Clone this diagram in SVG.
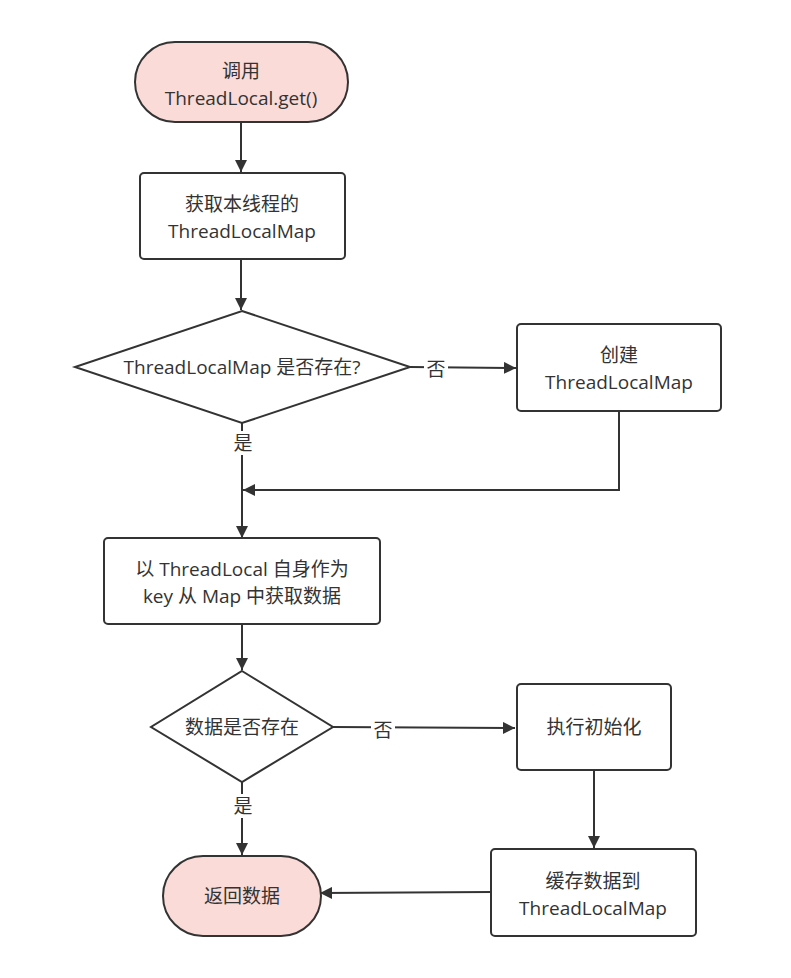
<svg xmlns="http://www.w3.org/2000/svg" width="791" height="978" viewBox="0 0 791 978">
<style>
.n{fill:#fff;stroke:#333;stroke-width:2}
.p{fill:#fadbd8;stroke:#333;stroke-width:2}
text{font-family:"Open Sans","Noto Sans CJK SC",sans-serif;font-size:19px;fill:#333;text-anchor:middle}
.c{fill:none;stroke:#333;stroke-width:2;marker-end:url(#a)}
.l{fill:none;stroke:#333;stroke-width:2}
</style>
<defs><marker id="a" viewBox="0 0 10 10" refX="9" refY="5" markerWidth="6" markerHeight="6" orient="auto" markerUnits="userSpaceOnUse" ><path d="M0,0L10,5L0,10z" fill="#333"/></marker>
<marker id="b" viewBox="0 0 10 10" refX="10" refY="5" markerWidth="12" markerHeight="12" orient="auto" markerUnits="userSpaceOnUse"><path d="M0,0L10,5L0,10z" fill="#333"/></marker></defs>
<rect width="791" height="978" fill="#fff"/>
<g id="connectors" style="marker-end:url(#b)">
<path class="l" marker-end="url(#b)" d="M241,122V172"/>
<path class="l" marker-end="url(#b)" d="M241,259V310"/>
<path class="l" marker-end="url(#b)" d="M410,367L516,368"/>
<path class="l" marker-end="url(#b)" d="M619,411V490H243"/>
<path class="l" marker-end="url(#b)" d="M242,423V538"/>
<path class="l" marker-end="url(#b)" d="M242,624V670"/>
<path class="l" marker-end="url(#b)" d="M333,727L515,728"/>
<path class="l" marker-end="url(#b)" d="M594,770V848"/>
<path class="l" marker-end="url(#b)" d="M491,892L320,893"/>
<path class="l" marker-end="url(#b)" d="M242,782V855"/>
<rect x="424" y="357" width="24" height="24" fill="#fff"/><text x="436" y="376" style="marker-end:none">否</text>
<rect x="371" y="718" width="24" height="24" fill="#fff"/><text x="383" y="737">否</text>
<rect x="231" y="431" width="24" height="24" fill="#fff"/><text x="243" y="450">是</text>
<rect x="231" y="794" width="24" height="24" fill="#fff"/><text x="243" y="813">是</text>
</g>
<g id="start"><rect class="p" x="135" y="42" width="213" height="80" rx="40"/><text x="241" y="78">调用</text><text x="241" y="105">ThreadLocal.get()</text></g>
<g id="getmap"><rect class="n" x="140" y="173" width="205" height="86" rx="4"/><text x="242" y="211">获取本线程的</text><text x="242" y="238">ThreadLocalMap</text></g>
<g id="d1"><path class="n" d="M242,311L410,367L242,423L75,367Z"/><text x="242" y="374">ThreadLocalMap 是否存在?</text></g>
<g id="create"><rect class="n" x="517" y="324" width="204" height="87" rx="4"/><text x="619" y="362">创建</text><text x="619" y="389">ThreadLocalMap</text></g>
<g id="lookup"><rect class="n" x="104" y="538" width="276" height="86" rx="4"/><text x="242" y="576">以 ThreadLocal 自身作为</text><text x="242" y="603">key 从 Map 中获取数据</text></g>
<g id="d2"><path class="n" d="M242,671L333,727L242,782L151,727Z"/><text x="242" y="734">数据是否存在</text></g>
<g id="init"><rect class="n" x="517" y="684" width="154" height="86" rx="4"/><text x="594" y="734">执行初始化</text></g>
<g id="cache"><rect class="n" x="491" y="849" width="205" height="87" rx="4"/><text x="593" y="888">缓存数据到</text><text x="593" y="915">ThreadLocalMap</text></g>
<g id="end"><rect class="p" x="163" y="856" width="158" height="80" rx="40"/><text x="242" y="903">返回数据</text></g>
</svg>
